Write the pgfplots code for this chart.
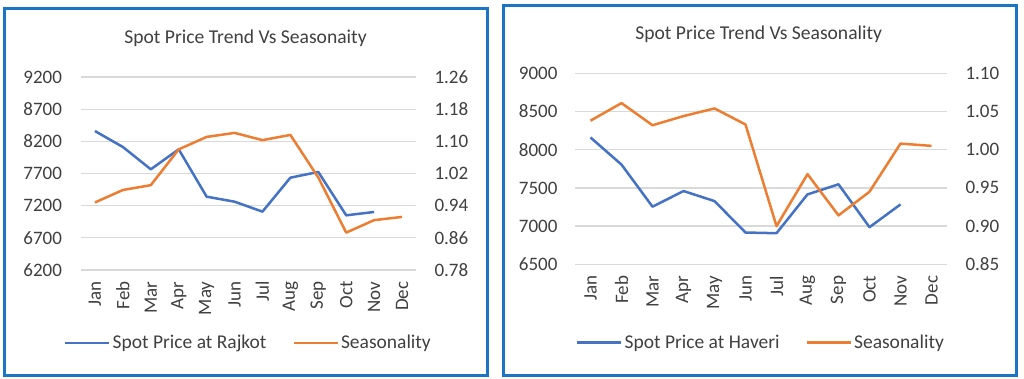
\documentclass[border=0pt]{standalone}
\usepackage{fontspec}
\setmainfont{Carlito}
\usepackage{pgfplots}
\pgfplotsset{compat=1.18}
\definecolor{xblue}{HTML}{4472C4}
\definecolor{xorange}{HTML}{ED7D31}
\definecolor{xgrid}{HTML}{D9D9D9}
\definecolor{xtext}{HTML}{404040}
\definecolor{xborder}{HTML}{1A75C4}
\newcommand{\tfont}{\fontsize{19}{22}\selectfont}
\pgfplotsset{
  base/.style={
    scale only axis,
    anchor=south west,
    xmin=-0.5, xmax=11.5,
    xtick={0,...,11},
    xticklabels={Jan,Feb,Mar,Apr,May,Jun,Jul,Aug,Sep,Oct,Nov,Dec},
    major tick length=0pt,
    axis line style={draw=none},
    every tick label/.append style={font=\tfont, text=xtext},
    /pgf/number format/assume math mode=true,
    clip=false,
  },
  leg/.style={
    legend columns=2,
    legend style={draw=none, fill=none, font=\fontsize{19.5}{22}\selectfont, text=xtext,
      /tikz/every even column/.append style={column sep=24pt}},
    legend image code/.code={\draw[##1, line width=2.5pt] (0pt,0pt) -- (44pt,0pt);},
  },
}
\begin{document}
\begin{tikzpicture}[x=1pt,y=1pt]
\useasboundingbox (0,0) rectangle (1024,378);
\fill[white] (0,0) rectangle (1024,378);
\draw[xborder, line width=3pt] (4.5,2.5) rectangle (487.5,369.5);
\draw[xborder, line width=3pt] (503.5,2.5) rectangle (1016,372.5);
\node[anchor=base, font=\fontsize{19.6}{22}\selectfont, text=xtext] at (245.5,334.5) {Spot Price Trend Vs Seasonaity};
\node[anchor=base, font=\fontsize{19.6}{22}\selectfont, text=xtext] at (758.7,338.7) {Spot Price Trend Vs Seasonality};

% ---------- left panel ----------
\begin{axis}[base, width=335pt, height=193pt, at={(81pt,108pt)},
  ymin=6200, ymax=9200, ytick={6200,6700,...,9200},
  ymajorgrids, grid style={xgrid, line width=1.3pt},
  /pgf/number format/set thousands separator={},
  yticklabel style={xshift=-15.5pt},
  xticklabel style={rotate=90, anchor=east, xshift=-8pt},
]
\addplot[xblue, line width=2.5pt, line join=round] coordinates {
(0,8360) (1,8112) (2,7765) (3,8076) (4,7340) (5,7262) (6,7107) (7,7635) (8,7724) (9,7050) (10,7102)};
\end{axis}
\begin{axis}[base, width=335pt, height=193pt, at={(81pt,108pt)}, leg,
  axis y line*=right, axis x line=none,
  ymin=0.78, ymax=1.26, ytick={0.78,0.86,...,1.27},
  yticklabel style={xshift=15pt, /pgf/number format/.cd, fixed, fixed zerofill, precision=2},
  legend style={at={(0.5,-0.378)}, anchor=center},
]
\addlegendimage{xblue}
\addlegendentry{Spot Price at Rajkot}
\addplot[xorange, line width=2.5pt, line join=round] coordinates {
(0,0.948) (1,0.979) (2,0.991) (3,1.080) (4,1.111) (5,1.121) (6,1.103) (7,1.116) (8,1.010) (9,0.873) (10,0.904) (11,0.912)};
\addlegendentry{Seasonality}
\end{axis}

% ---------- right panel ----------
\begin{axis}[base, width=372pt, height=191pt, at={(575pt,113.7pt)},
  ymin=6500, ymax=9000, ytick={6500,7000,...,9000},
  ymajorgrids, grid style={xgrid, line width=1.3pt},
  /pgf/number format/set thousands separator={},
  yticklabel style={xshift=-14pt},
  xticklabel style={rotate=90, anchor=east, xshift=-8pt},
]
\addplot[xblue, line width=2.5pt, line join=round] coordinates {
(0,8160) (1,7805) (2,7254) (3,7459) (4,7327) (5,6916) (6,6907) (7,7415) (8,7547) (9,6986) (10,7284)};
\end{axis}
\begin{axis}[base, width=372pt, height=191pt, at={(575pt,113.7pt)}, leg,
  axis y line*=right, axis x line=none,
  ymin=0.85, ymax=1.10, ytick={0.85,0.90,...,1.11},
  yticklabel style={xshift=15pt, /pgf/number format/.cd, fixed, fixed zerofill, precision=2},
  legend style={at={(0.5,-0.41)}, anchor=center},
]
\addlegendimage{xblue}
\addlegendentry{Spot Price at Haveri}
\addplot[xorange, line width=2.5pt, line join=round] coordinates {
(0,1.038) (1,1.061) (2,1.032) (3,1.044) (4,1.054) (5,1.033) (6,0.900) (7,0.968) (8,0.914) (9,0.945) (10,1.008) (11,1.005)};
\addlegendentry{Seasonality}
\end{axis}
\end{tikzpicture}
\end{document}
